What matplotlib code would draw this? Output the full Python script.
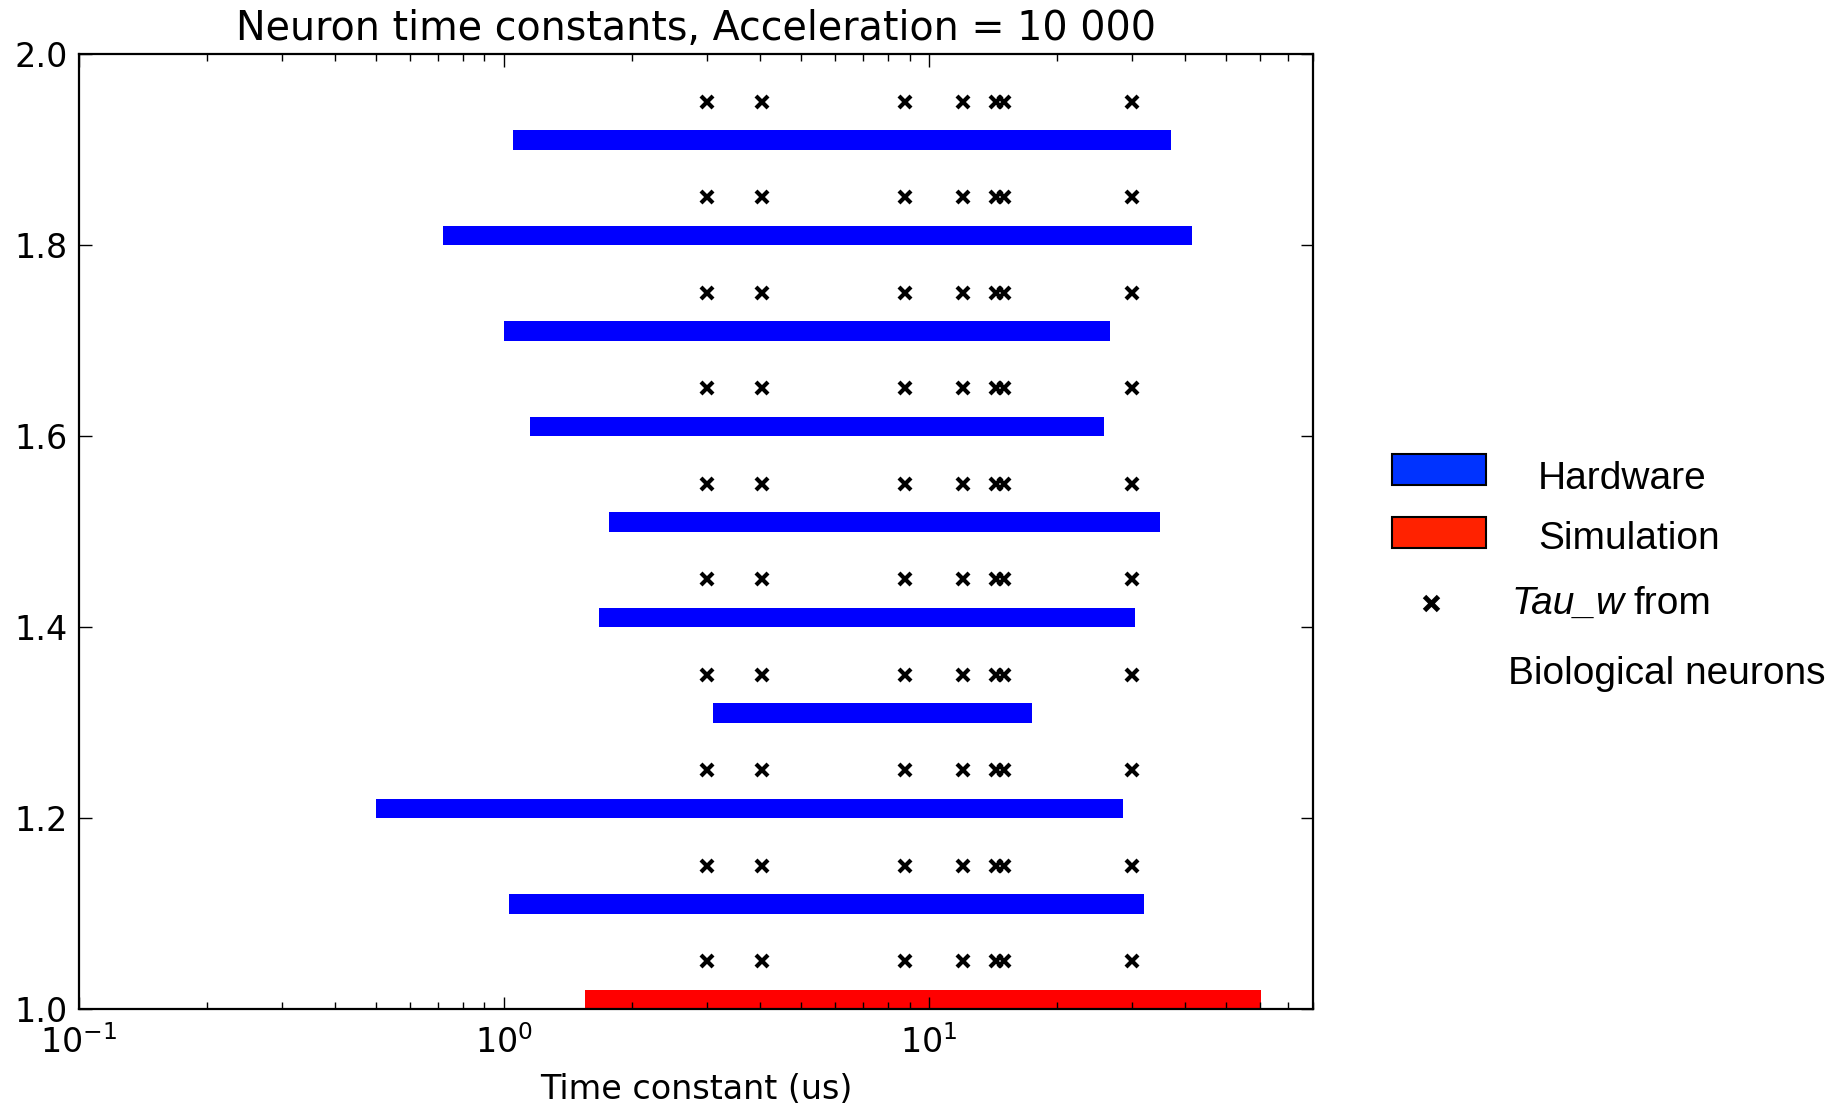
import matplotlib
matplotlib.use("Agg")
import matplotlib.pyplot as plt
from matplotlib.patches import Rectangle
from matplotlib.lines import Line2D

plt.rcParams['axes.unicode_minus'] = False

# Hardware time constant ranges (us), one row per neuron
hw_rows = [1.11, 1.21, 1.31, 1.41, 1.51, 1.61, 1.71, 1.81, 1.91]
hw_start = [1.03, 0.50, 3.11, 1.67, 1.77, 1.15, 1.00, 0.72, 1.05]
hw_end = [32.0, 28.6, 17.5, 30.5, 35.0, 25.8, 26.7, 41.5, 37.0]

# Simulation range
sim_row = 1.01
sim_start = 1.55
sim_end = 60.5

# Tau_w of biological neurons (us), repeated above every row
tau_w = [3.0, 4.05, 8.8, 12.0, 14.4, 15.0, 30.0]
tau_rows = [1.05, 1.15, 1.25, 1.35, 1.45, 1.55, 1.65, 1.75, 1.85, 1.95]

fig = plt.figure(figsize=(18.42, 11.09), dpi=100)
ax = fig.add_axes([78.7 / 1842, 1 - 1009 / 1109, (1313 - 78.7) / 1842, (1009 - 54) / 1109])

ax.barh(hw_rows, [e - s for s, e in zip(hw_start, hw_end)], left=hw_start,
        height=0.02, color='#0000ff', linewidth=0)
ax.barh([sim_row], [sim_end - sim_start], left=[sim_start],
        height=0.02, color='#ff0000', linewidth=0)

for r in tau_rows:
    ax.plot(tau_w, [r] * len(tau_w), linestyle='none', marker='x',
            color='black', markersize=9, markeredgewidth=3)

ax.set_xscale('log')
ax.set_xlim(0.1, 80)
ax.set_ylim(1.0, 2.0)
ax.set_yticks([1.0, 1.2, 1.4, 1.6, 1.8, 2.0])
ax.tick_params(which='both', direction='in', top=True, right=True, labelsize=24)
ax.tick_params(which='major', length=9, width=1)
ax.tick_params(which='minor', length=5, width=1)
ax.tick_params(axis='x', pad=12)
ax.tick_params(axis='y', pad=8)
for sp in ax.spines.values():
    sp.set_linewidth(1.6)

ax.set_title('Neuron time constants, Acceleration = 10 000', fontsize=28.5, pad=10)
ax.set_xlabel('Time constant (us)', fontsize=24, labelpad=9)

# legend drawn by hand in figure pixels
def fx(px):
    return px / 1842

def fy(py):
    return 1 - py / 1109

leg_font = ['Liberation Sans', 'DejaVu Sans']
fig.patches.append(Rectangle((fx(1392), fy(485)), fx(94), 31 / 1109,
                             facecolor='#0033ff', edgecolor='black', linewidth=1.5,
                             transform=fig.transFigure, figure=fig))
fig.patches.append(Rectangle((fx(1392), fy(548)), fx(94), 31 / 1109,
                             facecolor='#ff2200', edgecolor='black', linewidth=1.5,
                             transform=fig.transFigure, figure=fig))
fig.lines.append(Line2D([fx(1431)], [fy(603)], marker='x', color='black',
                        markersize=10, markeredgewidth=3.5, transform=fig.transFigure))
fig.text(fx(1538), fy(479), 'Hardware', fontsize=28, family=leg_font, va='center')
fig.text(fx(1538), fy(539), 'Simulation', fontsize=28, family=leg_font, va='center')
fig.text(fx(1511), fy(604), 'Tau_w', fontsize=28, family=leg_font, style='italic', va='center')
fig.text(fx(1633), fy(604), 'from', fontsize=28, family=leg_font, va='center')
fig.text(fx(1508), fy(674), 'Biological neurons', fontsize=28, family=leg_font, va='center')

fig.savefig('out.png', dpi=100)
